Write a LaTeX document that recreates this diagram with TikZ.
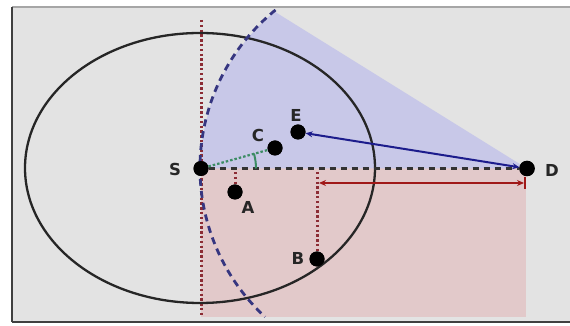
\documentclass[tikz,border=0pt]{standalone}
\usepackage{fontspec}
\setmainfont{DejaVu Sans}
\usetikzlibrary{arrows.meta}
\definecolor{bggray}{HTML}{E3E3E3}
\definecolor{pinkfill}{HTML}{E2C9CA}
\definecolor{lavfill}{HTML}{C8C8E8}
\definecolor{reddot}{HTML}{8C2C34}
\definecolor{navydash}{HTML}{363680}
\definecolor{bluearrow}{HTML}{1C1C8C}
\definecolor{redarrow}{HTML}{A01818}
\definecolor{greenline}{HTML}{3C8C64}
\tikzset{
  pt/.style={circle,fill=black,inner sep=0pt,minimum size=15pt},
  lbl/.style={font=\fontsize{16.5}{16.5}\selectfont\bfseries,text=black!85,inner sep=0pt},
  reddotted/.style={draw=reddot,line width=3pt,dash pattern=on 2.4pt off 2.4pt},
}
\begin{document}
\begin{tikzpicture}[x=1pt,y=1pt]
\useasboundingbox (0,0) rectangle (570,326);
\fill[white] (0,0) rectangle (570,326);
\fill[bggray] (12,4) rectangle (570,319);
\draw[gray!70,line width=1.4pt] (12,319) -- (570,319);
\draw[black!75,line width=1.6pt] (12,4) -- (12,319);
\draw[black!75,line width=1.6pt] (12,4) -- (570,4);
% shaded regions
\fill[pinkfill] (201,157.5) rectangle (526,9);
\fill[lavfill] (200.5,157.5) arc[start angle=180,end angle=128.9,radius=203pt] -- (272,316) -- (527,157.5) -- cycle;
% nodes
\node[pt] (S) at (201,157.5) {};
\node[pt] (A) at (235,134) {};
\node[pt] (C) at (275,178) {};
\node[pt] (E) at (298,194) {};
\node[pt] (D) at (527,157.5) {};
\node[pt] (B) at (317,67) {};
\coordinate (vtop) at (201,306);
\coordinate (vbot) at (201,9);
\coordinate (Afoot) at (235,154);
\coordinate (Bfoot) at (317,154);
\coordinate (rL) at (319,143);
\coordinate (rR) at (524,143);
% red dotted lines
\draw[reddotted] (vtop) -- (vbot);
\draw[reddotted] (Afoot) -- (A);
\draw[reddotted] (Bfoot) -- (B);
% ellipse
\draw[black!85,line width=2.3pt] (200,158) ellipse [x radius=175pt,y radius=135pt];
% dashed arc
\draw[navydash,line width=2.8pt,dash pattern=on 7pt off 5pt] (275.5,316) arc[start angle=128.9,end angle=227.2,radius=203pt];
% S-D dashed line
\draw[black!80,line width=2.3pt,dash pattern=on 6pt off 5pt] (S) -- (D);
% green
\draw[greenline,line width=2.2pt,dash pattern=on 2.5pt off 2pt] (S) -- (C);
\draw[greenline,line width=2pt] ([shift={(0:55pt)}]S.center) arc[start angle=0,end angle=15.8,radius=55pt];
% blue arrow
\draw[bluearrow,line width=2pt,{Stealth[length=7pt,width=6pt]}-{Stealth[length=7pt,width=6pt]}] (E) -- (D);
% red arrow
\draw[redarrow,line width=2pt,{Stealth[length=7pt,width=6pt]}-{Stealth[length=7pt,width=6pt]}] (rL) -- (rR);
\draw[redarrow,line width=2pt] (525,137) -- (525,149);
% redraw dots on top
\fill[black] (S) circle (7.5pt) (A) circle (7.5pt) (C) circle (7.5pt) (E) circle (7.5pt) (D) circle (7.8pt) (B) circle (7.5pt);
% labels
\node[lbl] at (175,157) {S};
\node[lbl] at (248,119) {A};
\node[lbl] at (258,191) {C};
\node[lbl] at (296,211) {E};
\node[lbl] at (552,156) {D};
\node[lbl] at (298,68) {B};
\end{tikzpicture}
\end{document}
